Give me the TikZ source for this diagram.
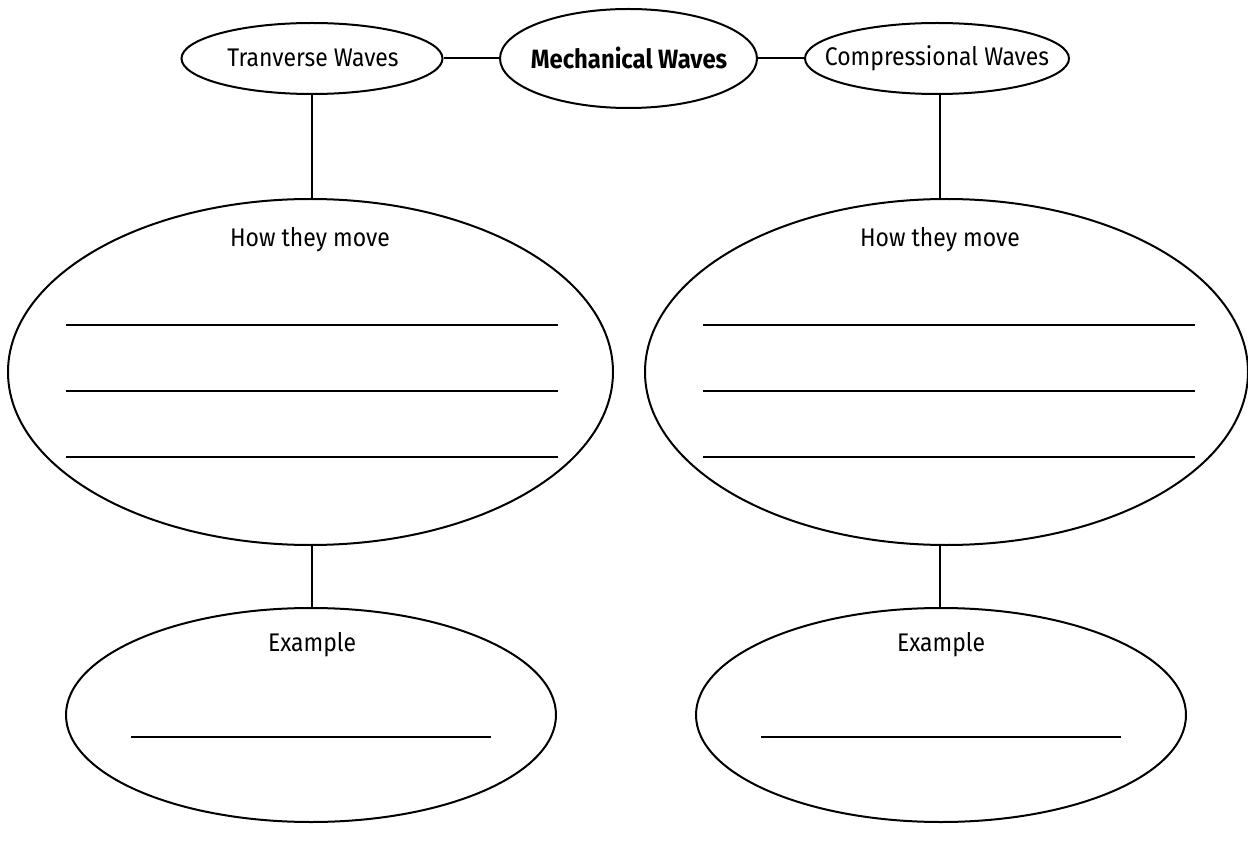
\documentclass[tikz,border=0pt]{standalone}
\usepackage{fontspec}
\setmainfont{Fira Sans}[FakeStretch=0.9]
\usetikzlibrary{shapes.geometric}
\begin{document}
\begin{tikzpicture}[x=1pt,y=-1pt,
  oval/.style={draw=black,line width=2pt,ellipse,inner sep=0pt},
  link/.style={draw=black,line width=2pt},
  blank/.style={draw=black,line width=2.2pt},
  lbl/.style={font=\fontsize{25.5}{29}\selectfont,inner sep=0pt}]
\useasboundingbox (0,0) rectangle (1248,850);
% top row
\node[oval,minimum width=261pt,minimum height=71pt] (tw) at (312,58.5) {};
\node[lbl] at (313,58) {Tranverse Waves};
\node[oval,minimum width=257pt,minimum height=99pt] (mw) at (628.5,58.5) {};
\node[lbl,font=\fontsize{26.5}{30}\selectfont\bfseries] at (629,58) {Mechanical Waves};
\node[oval,minimum width=264pt,minimum height=71pt] (cw) at (937,58.5) {};
\node[lbl] at (937,58) {Compressional Waves};
\draw[link] (tw.east) -- (mw.west);
\draw[link] (mw.east) -- (cw.west);
% big ellipses
\node[oval,minimum width=605pt,minimum height=346pt] (lh) at (310.5,372) {};
\node[oval,minimum width=603pt,minimum height=346pt] (rh) at (946.5,372) {};
\node[lbl] (lht) at (310,240) {How they move};
\node[lbl] (rht) at (940,240) {How they move};
\coordinate (tws) at (312,94);
\coordinate (lhn) at (312,199);
\coordinate (cws) at (940,94);
\coordinate (rhn) at (940,199);
\draw[link] (tws) -- (lhn);
\draw[link] (cws) -- (rhn);
\foreach \y [count=\i] in {325,391,457}{
  \coordinate (la\i) at (66,\y); \coordinate (lb\i) at (558,\y);
  \coordinate (ra\i) at (703,\y); \coordinate (rb\i) at (1195,\y);
  \draw[blank] (la\i) -- (lb\i);
  \draw[blank] (ra\i) -- (rb\i);
}
% example ellipses
\node[oval,minimum width=490pt,minimum height=214pt] (le) at (311,715) {};
\node[oval,minimum width=490pt,minimum height=214pt] (re) at (941,715) {};
\node[lbl] (let) at (312,645) {Example};
\node[lbl] (ret) at (941,645) {Example};
\coordinate (lhs) at (312,545); \coordinate (len) at (312,608);
\coordinate (rhs) at (940,545); \coordinate (ren) at (940,608);
\draw[link] (lhs) -- (len);
\draw[link] (rhs) -- (ren);
\coordinate (lea) at (131,737); \coordinate (leb) at (491,737);
\coordinate (rea) at (761,737); \coordinate (reb) at (1121,737);
\draw[blank] (lea) -- (leb);
\draw[blank] (rea) -- (reb);
\end{tikzpicture}
\end{document}
